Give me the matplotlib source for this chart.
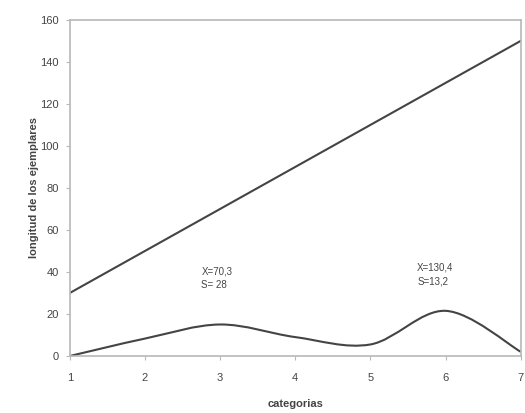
import numpy as np
import matplotlib
matplotlib.use('Agg')
import matplotlib.pyplot as plt
from matplotlib.path import Path
from matplotlib.patches import PathPatch

plt.rcParams['font.family'] = ['Liberation Sans', 'DejaVu Sans']

# datos
categorias = [1, 2, 3, 4, 5, 6, 7]
longitud_max = [30, 50, 70, 90, 110, 130, 150]
longitud_min = [0, 8.3, 15, 9, 5.5, 21.5, 2]
etiquetas = ['X=70,3\nS= 28', 'X=130,4\nS=13,2']
pos_etiquetas = [(2.75, 37), (5.62, 39)]


def curva_suave(x, y, t=1/6):
    # suavizado tipo Excel (Bezier a partir de los puntos)
    verts = [(x[0], y[0])]
    codes = [Path.MOVETO]
    n = len(x)
    for i in range(n - 1):
        x0, y0 = (x[i - 1], y[i - 1]) if i > 0 else (x[i], y[i])
        x3, y3 = (x[i + 2], y[i + 2]) if i + 2 < n else (x[i + 1], y[i + 1])
        c1 = (x[i] + (x[i + 1] - x0) * t, y[i] + (y[i + 1] - y0) * t)
        c2 = (x[i + 1] - (x3 - x[i]) * t, y[i + 1] - (y3 - y[i]) * t)
        verts += [c1, c2, (x[i + 1], y[i + 1])]
        codes += [Path.CURVE4] * 3
    return Path(verts, codes)


fig = plt.figure(figsize=(5.25, 4.13), dpi=100)
ax = fig.add_axes([0.133, 0.138, 0.859, 0.814])

ax.plot(categorias, longitud_max, color='#444444', lw=1.5)
ax.add_patch(PathPatch(curva_suave(categorias, longitud_min), fill=False,
                       edgecolor='#444444', lw=1.5))

for txt, (px, py) in zip(etiquetas, pos_etiquetas):
    ax.text(px, py, txt, fontsize=7, color='#444444', va='center',
            linespacing=1.5)

ax.set_xlim(1, 7)
ax.set_ylim(0, 160)
ax.set_xticks(categorias)
ax.set_yticks(range(0, 161, 20))
for s in ax.spines.values():
    s.set_color('#b8b8b8')
    s.set_linewidth(1.2)
ax.tick_params(colors='#b8b8b8', labelcolor='#444444', labelsize=8,
               length=3)
ax.tick_params(axis='x', pad=9)
ax.tick_params(axis='y', pad=5)
ax.set_xlabel('categorias', fontsize=8, fontweight='bold', color='#444444',
              labelpad=12)
ax.set_ylabel('longitud de los ejemplares', fontsize=8, fontweight='bold',
              color='#444444', labelpad=1)

fig.savefig('out.png', dpi=100)
